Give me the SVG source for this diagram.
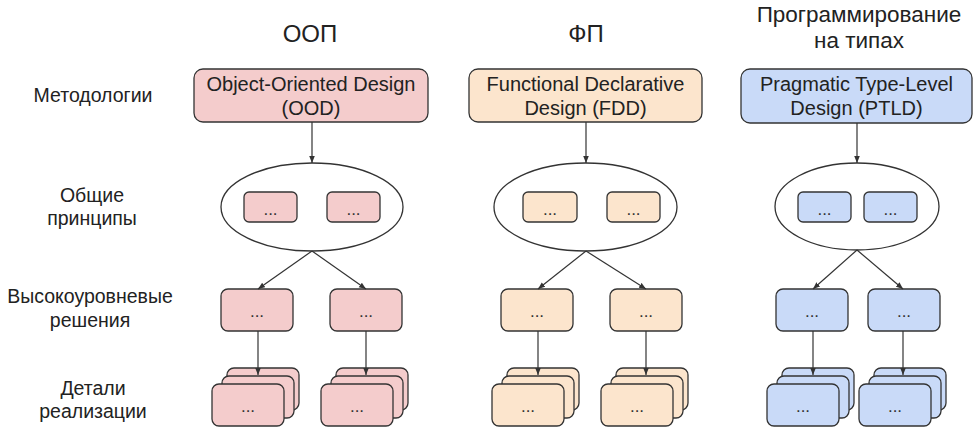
<svg xmlns="http://www.w3.org/2000/svg" width="977" height="429" viewBox="0 0 977 429">
  <defs>
    <marker id="arrow" viewBox="0 0 10 10" refX="10" refY="5" markerWidth="7" markerHeight="7" markerUnits="userSpaceOnUse" orient="auto">
      <path d="M0,1 L10,5 L0,9 Z" fill="#333"/>
    </marker>
    <style>
      text { font-family: "Liberation Sans", Arial, sans-serif; fill: #222; text-anchor: middle; }
      .title { font-size: 24px; }
      .label { font-size: 19.5px; }
      .main { font-size: 20px; }
      .dots { font-size: 17px; fill: #333; }
      .box { stroke: #333; stroke-width: 1.3; }
      .oop { fill: #f4cccc; }
      .fp { fill: #fce5cd; }
      .tl { fill: #c9daf8; }
      .ell { fill: #fff; stroke: #333; stroke-width: 1.3; }
      .conn { fill: none; stroke: #333; stroke-width: 1.2; marker-end: url(#arrow); }
    </style>
  </defs>
  <rect width="977" height="429" fill="#fff"/>

  <!-- row labels -->
  <g id="row-labels">
    <text class="label" x="93" y="102">Методологии</text>
    <text class="label" x="92" y="202">Общие</text>
    <text class="label" x="92" y="225">принципы</text>
    <text class="label" x="90" y="303">Высокоуровневые</text>
    <text class="label" x="90" y="327">решения</text>
    <text class="label" x="93" y="395">Детали</text>
    <text class="label" x="93" y="418">реализации</text>
  </g>

  <!-- column titles -->
  <g id="col-titles">
    <text class="title" x="310" y="42">ООП</text>
    <text class="title" x="586" y="42">ФП</text>
    <text class="title" x="859" y="22" style="font-size:22.5px">Программирование</text>
    <text class="title" x="859" y="48" style="font-size:22.5px">на типах</text>
  </g>

  <!-- ===== OOP column ===== -->
  <g id="ood">
    <rect class="box oop" x="194" y="69" width="234" height="53" rx="9"/>
    <text class="main" x="311" y="91">Object-Oriented Design</text>
    <text class="main" x="311" y="115">(OOD)</text>
  </g>
  <g id="ood-principles">
    <ellipse class="ell" cx="312" cy="207" rx="91" ry="44"/>
    <rect class="box oop" x="244" y="192" width="53" height="30" rx="5"/>
    <text class="dots" x="270.5" y="215">...</text>
    <rect class="box oop" x="327" y="192" width="53" height="30" rx="5"/>
    <text class="dots" x="353.5" y="215">...</text>
  </g>
  <g id="ood-high-1">
    <rect class="box oop" x="221" y="289" width="72" height="42" rx="7"/>
    <text class="dots" x="257" y="317">...</text>
  </g>
  <g id="ood-high-2">
    <rect class="box oop" x="330" y="289" width="72" height="42" rx="7"/>
    <text class="dots" x="366" y="317">...</text>
  </g>
  <g id="ood-impl-1">
    <rect class="box oop" x="227" y="368" width="72" height="42" rx="7"/>
    <rect class="box oop" x="222" y="376" width="72" height="42" rx="7"/>
    <rect class="box oop" x="212" y="384" width="72" height="42" rx="7"/>
    <text class="dots" x="248" y="412">...</text>
  </g>
  <g id="ood-impl-2">
    <rect class="box oop" x="336" y="368" width="72" height="42" rx="7"/>
    <rect class="box oop" x="331" y="376" width="72" height="42" rx="7"/>
    <rect class="box oop" x="321" y="384" width="72" height="42" rx="7"/>
    <text class="dots" x="357" y="412">...</text>
  </g>

  <!-- ===== FP column ===== -->
  <g id="fdd">
    <rect class="box fp" x="469" y="69" width="233" height="53" rx="9"/>
    <text class="main" x="585.5" y="91">Functional Declarative</text>
    <text class="main" x="585.5" y="115">Design (FDD)</text>
  </g>
  <g id="fdd-principles">
    <ellipse class="ell" cx="585.5" cy="207" rx="91.5" ry="44"/>
    <rect class="box fp" x="523" y="192" width="54" height="30" rx="5"/>
    <text class="dots" x="550" y="215">...</text>
    <rect class="box fp" x="607" y="192" width="53" height="30" rx="5"/>
    <text class="dots" x="633.5" y="215">...</text>
  </g>
  <g id="fdd-high-1">
    <rect class="box fp" x="501" y="289" width="72" height="42" rx="7"/>
    <text class="dots" x="537" y="317">...</text>
  </g>
  <g id="fdd-high-2">
    <rect class="box fp" x="610" y="289" width="72" height="42" rx="7"/>
    <text class="dots" x="646" y="317">...</text>
  </g>
  <g id="fdd-impl-1">
    <rect class="box fp" x="507" y="368" width="72" height="42" rx="7"/>
    <rect class="box fp" x="502" y="376" width="72" height="42" rx="7"/>
    <rect class="box fp" x="492" y="384" width="72" height="42" rx="7"/>
    <text class="dots" x="528" y="412">...</text>
  </g>
  <g id="fdd-impl-2">
    <rect class="box fp" x="616" y="368" width="72" height="42" rx="7"/>
    <rect class="box fp" x="611" y="376" width="72" height="42" rx="7"/>
    <rect class="box fp" x="601" y="384" width="72" height="42" rx="7"/>
    <text class="dots" x="637" y="412">...</text>
  </g>

  <!-- ===== Type-level column ===== -->
  <g id="ptld">
    <rect class="box tl" x="741" y="69" width="231" height="54" rx="9"/>
    <text class="main" x="856.5" y="91">Pragmatic Type-Level</text>
    <text class="main" x="856.5" y="115">Design (PTLD)</text>
  </g>
  <g id="ptld-principles">
    <ellipse class="ell" cx="857" cy="206.5" rx="82" ry="43.5"/>
    <rect class="box tl" x="798" y="192" width="53" height="30" rx="5"/>
    <text class="dots" x="824.5" y="215">...</text>
    <rect class="box tl" x="864" y="192" width="53" height="30" rx="5"/>
    <text class="dots" x="890.5" y="215">...</text>
  </g>
  <g id="ptld-high-1">
    <rect class="box tl" x="776" y="289" width="72" height="42" rx="7"/>
    <text class="dots" x="812" y="317">...</text>
  </g>
  <g id="ptld-high-2">
    <rect class="box tl" x="868" y="289" width="72" height="42" rx="7"/>
    <text class="dots" x="904" y="317">...</text>
  </g>
  <g id="ptld-impl-1">
    <rect class="box tl" x="782" y="368" width="72" height="42" rx="7"/>
    <rect class="box tl" x="777" y="376" width="72" height="42" rx="7"/>
    <rect class="box tl" x="767" y="384" width="72" height="42" rx="7"/>
    <text class="dots" x="803" y="412">...</text>
  </g>
  <g id="ptld-impl-2">
    <rect class="box tl" x="874" y="368" width="72" height="42" rx="7"/>
    <rect class="box tl" x="869" y="376" width="72" height="42" rx="7"/>
    <rect class="box tl" x="859" y="384" width="72" height="42" rx="7"/>
    <text class="dots" x="895" y="412">...</text>
  </g>

  <!-- connectors -->
  <g id="connectors">
    <path class="conn" d="M312,122 L312,163"/>
    <path class="conn" d="M312,251 L258,289"/>
    <path class="conn" d="M312,251 L366,289"/>
    <path class="conn" d="M258,331 L258,375"/>
    <path class="conn" d="M366,331 L366,375"/>

    <path class="conn" d="M586,122 L586,163"/>
    <path class="conn" d="M586,251 L538,289"/>
    <path class="conn" d="M586,251 L646,289"/>
    <path class="conn" d="M538,331 L538,375"/>
    <path class="conn" d="M646,331 L646,375"/>

    <path class="conn" d="M857,123 L857,163"/>
    <path class="conn" d="M857,250 L813,289"/>
    <path class="conn" d="M857,250 L903,289"/>
    <path class="conn" d="M813,331 L813,375"/>
    <path class="conn" d="M903,331 L903,375"/>
  </g>
</svg>
